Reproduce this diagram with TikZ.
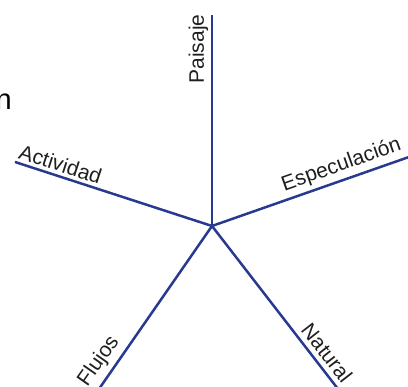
\documentclass[tikz,border=0pt]{standalone}
\usepackage{fontspec}
\setmainfont{Liberation Sans}
\definecolor{axisblue}{HTML}{28398F}
\begin{document}
\begin{tikzpicture}[x=1pt,y=1pt,
  axisline/.style={draw=axisblue,line width=2.5pt},
  lbl/.style={font=\fontsize{21}{25}\selectfont,text=black!88,anchor=south,inner sep=3.5pt}]
\useasboundingbox (0,0) rectangle (408,387);
\coordinate (C) at (212,161);
\coordinate (P) at (212,372);
\coordinate (E) at (409,230);
\coordinate (A) at (15,225);
\coordinate (F) at (99,-2);
\coordinate (N) at (338,-2);
\draw[axisline] (C) -- (P);
\draw[axisline] (C) -- (E);
\draw[axisline] (C) -- (A);
\draw[axisline] (C) -- (F);
\draw[axisline] (C) -- (N);
\node[lbl,rotate=90] (lp) at (212,338) {Paisaje};
\node[lbl,rotate=-18] (la) at (57,212) {Actividad};
\node[lbl,rotate=19.4] (le) at (346,209) {Especulación};
\node[lbl,rotate=54.9] (lf) at (110,18) {Flujos};
\node[lbl,rotate=-52] (ln) at (318,27) {Natural};
\node[font=\fontsize{29}{34}\selectfont,anchor=base east,inner sep=0pt] (cut) at (12,277) {n};
\end{tikzpicture}
\end{document}
